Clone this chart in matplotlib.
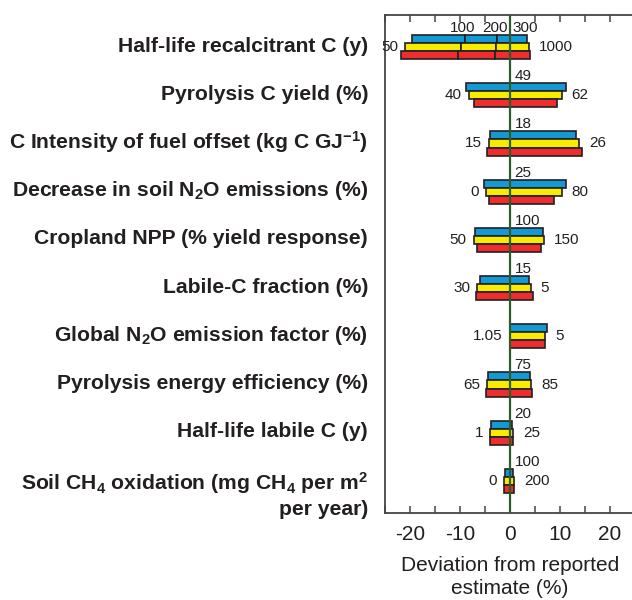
import numpy as np
import matplotlib
matplotlib.use('Agg')
import matplotlib.pyplot as plt

plt.rcParams['font.family'] = ['Liberation Sans', 'DejaVu Sans']
plt.rcParams['mathtext.fontset'] = 'custom'
plt.rcParams['mathtext.rm'] = 'Liberation Sans'
plt.rcParams['mathtext.bf'] = 'Liberation Sans:bold'
plt.rcParams['mathtext.default'] = 'bf'

# parameters (top to bottom)
categories = ['Half-life recalcitrant C (y)',
	'Pyrolysis C yield (%)',
	'C Intensity of fuel offset (kg C GJ$^{-1}$)',
	'Decrease in soil N$_2$O emissions (%)',
	'Cropland NPP (% yield response)',
	'Labile-C fraction (%)',
	'Global N$_2$O emission factor (%)',
	'Pyrolysis energy efficiency (%)',
	'Half-life labile C (y)',
	'Soil CH$_4$ oxidation (mg CH$_4$ per m$^2$\nper year)']

# reported value (above bars), low and high tested values
ref_labels = ['', '49', '18', '25', '100', '15', '', '75', '20', '100']
low_labels = ['50', '40', '15', '0', '50', '30', '1.05', '65', '1', '0']
high_labels = ['1000', '62', '26', '80', '150', '5', '5', '85', '25', '200']

# deviation from reported estimate (%), three scenarios
blue_lo = [-19.5, -8.7, -4.0, -5.2, -6.9, -6.0, 0.0, -4.35, -3.7, -0.94]
blue_hi = [3.55, 11.2, 13.2, 11.2, 6.7, 3.9, 7.5, 4.1, 0.5, 0.67]
yellow_lo = [-20.9, -8.2, -4.2, -4.8, -7.2, -6.5, 0.0, -4.55, -3.95, -1.2]
yellow_hi = [3.9, 10.4, 13.9, 10.4, 6.9, 4.2, 7.1, 4.35, 0.67, 0.94]
red_lo = [-21.8, -7.1, -4.5, -4.1, -6.5, -6.8, 0.0, -4.7, -3.95, -1.2]
red_hi = [4.1, 9.4, 14.5, 8.8, 6.2, 4.6, 7.1, 4.5, 0.74, 0.87]

# half-life recalcitrant C: values 100, 200 inside the bars
halflife_steps = ['100', '200', '300']
blue_splits = [-9.0, -2.5]
yellow_splits = [-9.8, -2.7]
red_splits = [-10.3, -2.9]

colors = ['#139ad6', '#f7ec00', '#ee2e2e']
edge = '#231f20'
txt = '#231f20'
h = 0.168

fig = plt.figure(figsize=(6.32, 6.0), dpi=100)
ax = fig.add_axes([0.6092, 0.145, 0.3947, 0.830])

y = np.arange(len(categories))
series = [(blue_lo, blue_hi, blue_splits), (yellow_lo, yellow_hi, yellow_splits), (red_lo, red_hi, red_splits)]
for k, (lo, hi, splits) in enumerate(series):
	off = (k - 1) * h
	for i in range(len(categories)):
		edges = [lo[i], hi[i]]
		if i == 0:
			edges = [lo[i]] + splits + [hi[i]]
		edges = np.array(edges)
		ax.barh(np.full(len(edges) - 1, y[i] + off), np.diff(edges), left=edges[:-1], height=h,
			color=colors[k], edgecolor=edge, linewidth=1.2, zorder=2)

ax.axvline(0, color='#2f5a2c', linewidth=1.6, zorder=4)

for i in range(len(categories)):
	ax.annotate(low_labels[i], xy=(yellow_lo[i], y[i]), xytext=(-7, 0), textcoords='offset pixels',
		ha='right', va='center', fontsize=11, color=txt)
	ax.annotate(high_labels[i], xy=(yellow_hi[i], y[i]), xytext=(10, 0), textcoords='offset pixels',
		ha='left', va='center', fontsize=11, color=txt)
	if ref_labels[i]:
		ax.annotate(ref_labels[i], xy=(0, y[i] - 1.5 * h), xytext=(5, 3), textcoords='offset pixels',
			ha='left', va='baseline', fontsize=11, color=txt)

step_x = blue_splits + [blue_hi[0]]
for s, xs in zip(halflife_steps, step_x):
	ax.annotate(s, xy=(xs, y[0] - 1.5 * h), xytext=(-2, 3), textcoords='offset pixels',
		ha='center', va='baseline', fontsize=11, color=txt)

for i, lab in enumerate(categories):
	if '\n' in lab:
		ax.annotate(lab, xy=(0, y[i]), xycoords=('axes fraction', 'data'), xytext=(-17, 11),
			textcoords='offset pixels', ha='right', va='top', multialignment='right',
			fontsize=15.2, fontweight='bold', color=txt, linespacing=1.3)
	else:
		ax.annotate(lab, xy=(0, y[i]), xycoords=('axes fraction', 'data'), xytext=(-17, 1),
			textcoords='offset pixels', ha='right', va='center',
			fontsize=15.2, fontweight='bold', color=txt)

ax.set_xlim(-25, 25)
ax.set_ylim(len(categories) - 1 + 0.665, -0.665)
ax.set_xticks([-20, -10, 0, 10, 20])
ax.set_xticks(np.arange(-25, 26, 5), minor=True)
ax.set_xticklabels(['-20', '-10', '0', '10', '20'])
ax.set_yticks([])
ax.tick_params(axis='x', which='both', direction='in', top=True, length=5, width=1.1, color='#444444',
	labelsize=15, labelcolor=txt, pad=9)
for side in ['left', 'bottom', 'top']:
	ax.spines[side].set_color('#444444')
	ax.spines[side].set_linewidth(1.3)
ax.spines['right'].set_visible(False)

ax.set_xlabel('Deviation from reported\nestimate (%)', fontsize=15, color=txt, labelpad=8, linespacing=1.3)

fig.savefig('out.png', dpi=100)
